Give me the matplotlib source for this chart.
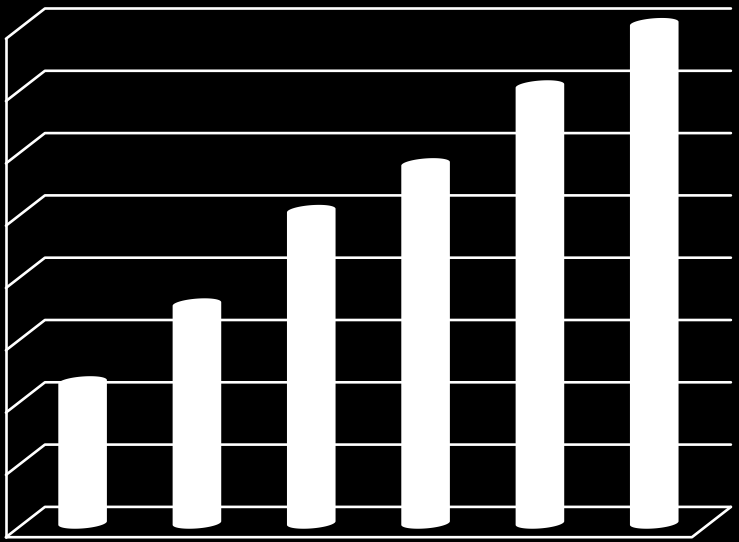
import numpy as np
import matplotlib
matplotlib.use("Agg")
import matplotlib.pyplot as plt

categories = [0, 1, 2, 3, 4, 5]
values = [2.25, 3.5, 5.0, 5.75, 7.0, 8.0]
grid_levels = [0, 1, 2, 3, 4, 5, 6, 7, 8]

W, H = 739, 542
fig = plt.figure(figsize=(W / 100, H / 100), dpi=100, facecolor="black")
ax = fig.add_axes([0, 0, 1, 1], facecolor="black")
ax.set_axis_off()

# scales: one category = 114.33 px, one value unit = 62.3 px
px_x, px_y = 114.33, 62.3
x0_px = 82.6          # first category centre (mid-depth)
y0_px = 506.9         # back wall level 0
ax.set_xlim(-x0_px / px_x, (W - x0_px) / px_x)
ax.set_ylim((y0_px - H) / px_y, y0_px / px_y)

# depth of the 3D floor in data units
dx = 39.0 / px_x
dy = 30.3 / px_y
left = -0.5 - dx / 2
right = 5.5 - dx / 2

line = dict(color="white", lw=1.9, solid_capstyle="round", solid_joinstyle="round", zorder=1)
for g in grid_levels:
    ax.plot([left, left + dx, right + dx], [g - dy, g, g], **line)
ax.plot([left, left], [-dy, grid_levels[-1] - dy], **line)
ax.plot([left, right, right + dx], [-dy, -dy, 0], **line)

# cylinders: lower half of the base ellipse joined to upper half of the top ellipse
half_w = 24.3 / px_x
semi_h = 5.4 / px_y
tilt = 1.8 / px_y
base = -dy / 2
drop = 1.0 / px_y
t_low = np.linspace(np.pi, 2 * np.pi, 50)
t_top = np.linspace(0, np.pi, 50)
for c, v in zip(categories, values):
    x_low = c + half_w * np.cos(t_low)
    y_low = base - drop + semi_h * np.sin(t_low) + tilt * np.cos(t_low)
    x_top = c + half_w * np.cos(t_top)
    y_top = base + v + semi_h * np.sin(t_top) + tilt * np.cos(t_top)
    ax.fill(np.r_[x_low, x_top], np.r_[y_low, y_top], color="white", lw=0, zorder=2)

fig.savefig("out.png", dpi=100, facecolor="black")
